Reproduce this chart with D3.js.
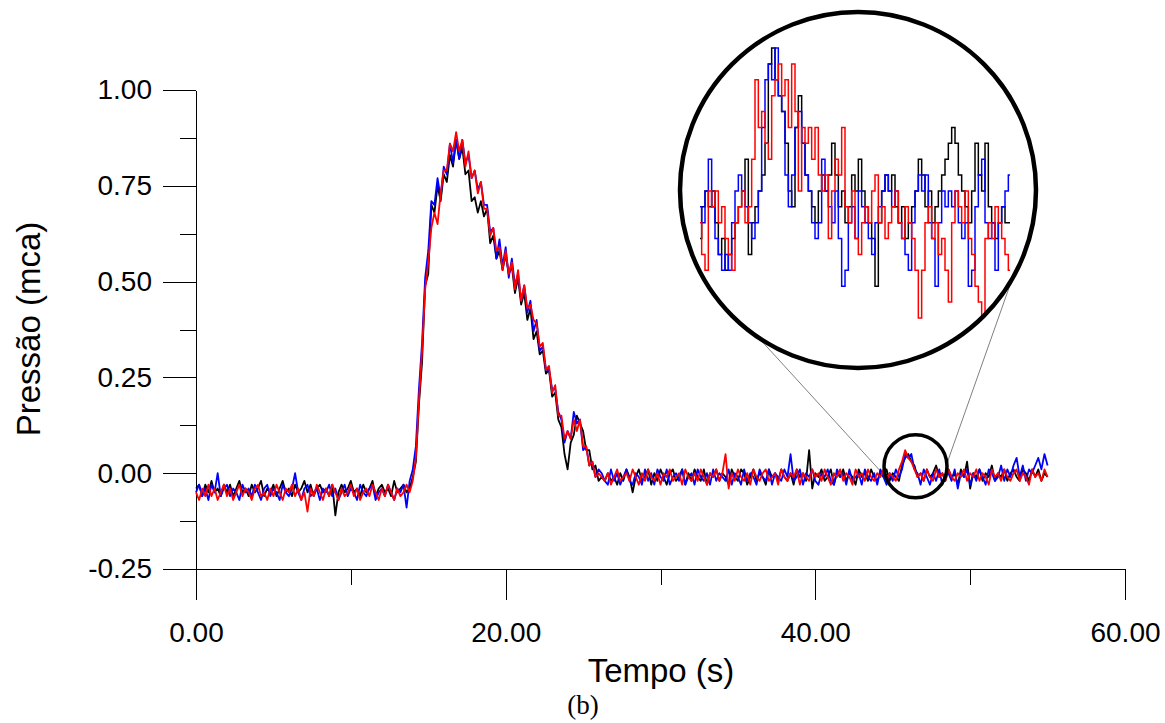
<!DOCTYPE html>
<html>
<head>
<meta charset="utf-8">
<script src="https://cdn.jsdelivr.net/npm/d3@7"></script>
<style>
  body { margin: 0; background: #fff; }
  svg { display: block; }
</style>
</head>
<body>
<div id="chart"></div>
<script>
// Pressure records (mca), one sample every 0.2 s from 0 to 55 s
const sampleStep = 0.2;

// black run
const blackPre = [
  -0.04,-0.03,-0.06,-0.03,-0.05,-0.02,-0.05,-0.04,-0.06,-0.03,
  -0.05,-0.03,-0.06,-0.04,-0.02,-0.05,-0.04,-0.06,-0.03,-0.05,
  -0.04,-0.02,-0.06,-0.04,-0.05,-0.03,-0.06,-0.04,-0.02,-0.05,
  -0.04,-0.06,-0.03,-0.05,-0.04,-0.02,-0.05,-0.03,-0.06,-0.04,
  -0.03,-0.05,-0.04,-0.06,-0.03,-0.11,-0.05,-0.03,-0.05,-0.04,
  -0.02,-0.05,-0.04,-0.06,-0.03,-0.05,-0.04,-0.02,-0.06,-0.04,
  -0.03,-0.05,-0.04,-0.06,-0.02,-0.05,-0.04,-0.03,-0.05];
const blackEvent = [
  -0.04,-0.01,0.03,0.18,0.29,0.49,0.52,0.70,0.68,0.75,
  0.71,0.78,0.76,0.83,0.80,0.87,0.82,0.85,0.78,0.79,
  0.71,0.72,0.68,0.71,0.67,0.69,0.60,0.62,0.56,0.58,
  0.53,0.57,0.52,0.54,0.47,0.51,0.44,0.47,0.40,0.43,
  0.35,0.37,0.31,0.32,0.26,0.27,0.20,0.21,0.14,0.12,
  0.05,0.01,0.08,0.10,0.15,0.13,0.11,0.06,0.06,0.01,
  0.02,-0.02];
const blackPost = [
  -0.01,-0.02,0.00,-0.02,-0.01,-0.03,0.00,-0.02,0.01,-0.01,
  -0.05,-0.01,0.01,-0.02,-0.01,0.01,-0.03,0.00,-0.02,0.01,
  -0.01,-0.03,0.00,0.01,-0.02,-0.01,0.01,-0.03,0.00,-0.02,
  0.01,-0.01,-0.02,0.01,-0.03,0.00,-0.01,0.01,-0.02,0.00,
  -0.01,-0.03,0.01,-0.01,-0.02,0.01,0.00,-0.03,-0.01,0.01,
  -0.02,0.00,-0.01,-0.03,0.01,-0.01,0.00,-0.02,0.01,-0.01,
  -0.02,0.00,-0.03,0.01,-0.01,0.00,-0.02,0.06,-0.04,0.00,
  -0.01,0.01,-0.02,-0.01,0.01,-0.03,0.00,-0.01,0.01,-0.02,
  0.00,-0.01,-0.03,0.01,-0.01,0.00,-0.02,0.01,-0.01,-0.02,
  0.00,-0.01,0.01,-0.02,0.00,-0.01,-0.02,0.02,0.04,0.05,
  0.03,0.02,-0.01,0.00,-0.02,0.01,-0.01,0.00,0.02,-0.01,
  0.00,-0.02,0.01,-0.01,0.00,-0.03,0.01,-0.01,0.03,-0.04,
  0.00,-0.01,0.01,-0.02,0.00,-0.01,0.02,-0.02,0.00,-0.01,
  0.01,-0.02,0.00,0.01,-0.01,-0.02,0.01,0.00,-0.02,0.01,
  -0.01,0.01,-0.02,0.00,-0.01];

// blue run
const bluePre = [
  -0.05,-0.03,-0.06,-0.04,-0.07,-0.03,-0.05,0.00,-0.06,-0.04,
  -0.03,-0.06,-0.04,-0.05,-0.07,-0.03,-0.05,-0.04,-0.06,-0.03,
  -0.05,-0.07,-0.04,-0.03,-0.06,-0.04,-0.05,-0.07,-0.03,-0.05,
  -0.06,-0.04,0.00,-0.05,-0.07,-0.04,-0.03,-0.06,-0.05,-0.04,
  -0.07,-0.04,-0.05,-0.03,-0.06,-0.04,-0.07,-0.05,-0.03,-0.06,
  -0.04,-0.05,-0.07,-0.03,-0.05,-0.06,-0.04,-0.03,-0.07,-0.05,
  -0.04,-0.06,-0.03,-0.05,-0.07,-0.04,-0.05,-0.03,-0.09];
const blueEvent = [
  -0.02,0.01,0.07,0.22,0.34,0.51,0.58,0.71,0.70,0.77,
  0.72,0.80,0.78,0.86,0.81,0.87,0.82,0.87,0.81,0.83,
  0.77,0.79,0.74,0.76,0.70,0.70,0.63,0.64,0.56,0.61,
  0.54,0.59,0.51,0.56,0.49,0.52,0.45,0.49,0.42,0.45,
  0.37,0.40,0.32,0.33,0.27,0.27,0.22,0.22,0.16,0.14,
  0.08,0.11,0.09,0.16,0.13,0.14,0.06,0.07,0.02,0.03,
  -0.01,0.01];
const bluePost = [
  0.00,-0.02,-0.03,0.01,-0.02,0.00,-0.03,-0.01,0.01,-0.02,
  -0.03,0.00,-0.01,-0.03,0.01,-0.02,0.00,-0.03,0.01,-0.01,
  -0.02,0.01,-0.03,-0.01,0.00,-0.02,0.01,-0.03,-0.01,0.00,
  -0.03,0.01,-0.01,-0.02,0.00,-0.03,0.01,-0.02,0.00,-0.01,
  -0.02,0.01,-0.03,0.00,-0.01,-0.03,0.01,-0.02,0.00,-0.01,
  -0.03,0.01,-0.01,-0.02,0.01,-0.03,0.00,-0.01,-0.02,0.01,
  -0.01,0.05,-0.02,-0.01,0.01,-0.03,0.00,-0.01,0.01,-0.02,
  -0.03,0.00,-0.01,0.01,-0.02,-0.03,0.01,-0.01,0.00,-0.03,
  0.01,-0.02,-0.01,0.00,-0.03,0.01,-0.01,-0.02,0.00,-0.03,
  0.01,-0.01,-0.03,0.00,-0.02,0.01,-0.01,0.01,0.05,0.04,
  0.05,0.01,0.00,-0.03,0.01,-0.01,-0.03,0.00,-0.02,0.01,
  -0.03,-0.01,0.00,-0.02,0.01,-0.04,0.00,-0.01,0.01,-0.03,
  0.00,-0.02,0.01,-0.01,-0.03,0.01,0.00,-0.02,-0.01,0.02,
  -0.02,0.01,-0.01,0.02,0.04,-0.01,0.02,-0.02,0.01,0.00,
  0.02,0.04,0.01,0.05,0.02];

// red run
const redPre = [
  -0.05,-0.07,-0.04,-0.06,-0.03,-0.06,-0.04,-0.07,-0.05,-0.03,
  -0.06,-0.04,-0.07,-0.05,-0.03,-0.06,-0.04,-0.05,-0.07,-0.04,
  -0.03,-0.06,-0.05,-0.07,-0.04,-0.06,-0.03,-0.05,-0.07,-0.04,
  -0.05,-0.03,-0.06,-0.04,-0.07,-0.05,-0.10,-0.04,-0.06,-0.03,
  -0.05,-0.07,-0.04,-0.06,-0.03,-0.05,-0.07,-0.04,-0.06,-0.05,
  -0.03,-0.06,-0.04,-0.07,-0.05,-0.04,-0.06,-0.03,-0.05,-0.07,
  -0.04,-0.06,-0.03,-0.05,-0.07,-0.04,-0.06,-0.05,-0.03];
const redEvent = [
  -0.05,-0.02,0.04,0.19,0.32,0.48,0.55,0.64,0.68,0.65,
  0.73,0.79,0.79,0.86,0.84,0.89,0.84,0.87,0.80,0.84,
  0.77,0.79,0.73,0.76,0.69,0.69,0.62,0.64,0.58,0.59,
  0.53,0.58,0.52,0.55,0.48,0.53,0.45,0.49,0.43,0.44,
  0.40,0.39,0.33,0.34,0.27,0.28,0.21,0.23,0.15,0.15,
  0.09,0.11,0.09,0.14,0.11,0.14,0.07,0.07,0.02,0.03,
  -0.01,0.00];
const redPost = [
  -0.01,-0.02,0.00,-0.03,-0.01,0.01,-0.02,-0.01,0.00,-0.02,
  0.01,-0.01,-0.03,0.00,-0.02,0.01,-0.01,-0.02,0.00,-0.03,
  0.00,-0.01,0.01,-0.02,-0.01,0.00,-0.03,0.01,-0.01,-0.02,
  0.00,-0.02,0.01,-0.01,-0.03,0.00,-0.01,0.01,-0.02,0.00,
  0.05,-0.04,0.00,-0.02,0.01,-0.01,-0.02,0.00,-0.03,0.01,
  -0.01,-0.02,0.00,0.01,-0.02,-0.01,0.00,-0.03,0.01,-0.01,
  -0.02,0.00,-0.01,0.01,-0.03,0.00,-0.01,-0.02,0.01,-0.01,
  0.00,-0.02,0.01,-0.01,-0.03,0.00,-0.01,0.01,-0.02,0.00,
  -0.01,-0.03,0.01,-0.01,0.00,-0.02,0.01,-0.01,-0.02,0.00,
  -0.01,0.01,-0.02,0.00,-0.01,-0.02,0.01,0.03,0.06,0.04,
  0.03,0.01,-0.01,0.00,-0.02,0.01,-0.01,-0.02,0.01,-0.01,
  0.00,-0.02,0.01,-0.01,-0.02,0.00,-0.01,0.01,-0.02,0.00,
  -0.01,0.01,-0.02,0.00,-0.01,-0.03,0.01,-0.01,0.00,-0.02,
  0.01,-0.01,-0.02,0.00,0.01,-0.02,0.00,-0.01,-0.03,0.01,
  -0.01,0.00,-0.02,0.01,-0.01];

// zoomed detail (quantised sensor steps) shown in the big circle
const insetBlack = [5,7,8,7,8,6,4,5,3,4,5,6,7,8,10,4,6,7,8,9,11,16,17,15,14,13,11,8,7,12,
  14,11,9,8,7,6,8,9,8,9,11,9,7,8,6,7,9,8,10,8,7,6,5,2,6,8,9,8,9,7,
  6,7,5,6,7,8,10,9,7,8,6,7,8,9,10,11,12,11,9,8,7,6,8,11,9,8,11,7,6,5,
  6,7,6,6];
const insetBlue = [7,6,8,10,7,5,4,3,4,3,6,8,9,8,7,6,5,6,8,12,15,16,15,17,14,13,9,7,9,12,
  13,11,9,8,6,5,6,10,8,7,6,8,5,2,3,6,7,5,8,7,6,5,4,6,7,8,9,8,7,8,
  6,5,4,3,6,8,9,8,9,6,5,2,6,8,7,8,7,8,6,5,6,2,3,7,9,10,6,5,6,3,
  6,7,8,9];
const insetRed = [6,4,3,8,7,8,6,7,5,4,3,6,7,8,6,7,10,15,12,13,11,10,14,15,16,14,15,12,16,13,
  8,12,11,12,10,12,9,8,9,5,8,10,9,12,7,6,8,5,4,6,7,6,8,9,6,7,5,6,7,8,
  6,5,7,6,5,3,0,3,6,7,5,6,4,5,3,1,6,8,7,6,8,5,4,2,1,0,5,6,5,7,
  6,5,4,3];

// axis ticks
const xTickValues = [0, 20, 40, 60];
const xTickLabels = ["0.00", "20.00", "40.00", "60.00"];
const xMinorTicks = [10, 30, 50];
const yTickValues = [-0.25, 0, 0.25, 0.5, 0.75, 1];
const yTickLabels = ["-0.25", "0.00", "0.25", "0.50", "0.75", "1.00"];
const yMinorTicks = [-0.125, 0.125, 0.375, 0.625, 0.875];

const seriesColors = ["#000000", "#0000ff", "#ff0000"];

function toPoints(values) {
  return values.map((v, i) => [i * sampleStep, v]);
}

const runs = [
  blackPre.concat(blackEvent, blackPost),
  bluePre.concat(blueEvent, bluePost),
  redPre.concat(redEvent, redPost)
];
const insetRuns = [insetBlack, insetBlue, insetRed];

const width = 1165, height = 723;
const font = "'Liberation Sans', Arial, sans-serif";

const svg = d3.select("#chart")
  .append("svg")
    .attr("width", width)
    .attr("height", height);

svg.append("rect").attr("width", width).attr("height", height).attr("fill", "#fff");

const x = d3.scaleLinear().domain([0, 60]).range([196, 1125]);
const y = d3.scaleLinear().domain([-0.25, 1]).range([569, 90]);

// y axis
svg.append("g")
  .attr("transform", "translate(" + x(0) + ",0)")
  .call(d3.axisLeft(y)
    .tickValues(yTickValues)
    .tickFormat((d, i) => yTickLabels[i])
    .tickSize(33).tickSizeOuter(0).tickPadding(11));
svg.append("g")
  .attr("transform", "translate(" + x(0) + ",0)")
  .call(d3.axisLeft(y).tickValues(yMinorTicks).tickFormat("").tickSize(16).tickSizeOuter(0))
  .call(g => g.select(".domain").remove());

// x axis
svg.append("g")
  .attr("transform", "translate(0," + y(-0.25) + ")")
  .call(d3.axisBottom(x)
    .tickValues(xTickValues)
    .tickFormat((d, i) => xTickLabels[i])
    .tickSize(31).tickSizeOuter(0).tickPadding(22));
svg.append("g")
  .attr("transform", "translate(0," + y(-0.25) + ")")
  .call(d3.axisBottom(x).tickValues(xMinorTicks).tickFormat("").tickSize(16).tickSizeOuter(0))
  .call(g => g.select(".domain").remove());

svg.selectAll(".tick text")
  .attr("font-family", font)
  .attr("font-size", 28)
  .attr("fill", "#000");
svg.selectAll(".tick line, .domain")
  .attr("stroke", "#000")
  .attr("shape-rendering", "crispEdges");

// axis titles
svg.append("text")
  .attr("x", 661).attr("y", 682)
  .attr("text-anchor", "middle")
  .attr("font-family", font).attr("font-size", 33)
  .text("Tempo (s)");
svg.append("text")
  .attr("transform", "translate(40,329) rotate(-90)")
  .attr("text-anchor", "middle")
  .attr("font-family", font).attr("font-size", 33)
  .text("Pressão (mca)");
svg.append("text")
  .attr("x", 583).attr("y", 714)
  .attr("text-anchor", "middle")
  .attr("font-family", "'Liberation Serif', 'Times New Roman', serif").attr("font-size", 27)
  .text("(b)");

// zoom marker and inset geometry
const zoomCenter = [46.47, 0.018], zoomRadius = 31.5;
const insetCenter = [858, 190], insetRadius = 178;
const connectors = [[124, 160], [30, -5]];   // angles (deg) on inset / zoom circles

const zc = [x(zoomCenter[0]), y(zoomCenter[1])];
const rad = a => a * Math.PI / 180;
svg.append("g").selectAll("line")
  .data(connectors)
  .enter().append("line")
    .attr("x1", d => insetCenter[0] + insetRadius * Math.cos(rad(d[0])))
    .attr("y1", d => insetCenter[1] + insetRadius * Math.sin(rad(d[0])))
    .attr("x2", d => zc[0] + zoomRadius * Math.cos(rad(d[1])))
    .attr("y2", d => zc[1] + zoomRadius * Math.sin(rad(d[1])))
    .attr("stroke", "#808080")
    .attr("stroke-width", 1);

// main traces
const line = d3.line().x(d => x(d[0])).y(d => y(d[1]));
svg.append("g").selectAll("path")
  .data(runs)
  .enter().append("path")
    .attr("d", d => line(toPoints(d)))
    .attr("fill", "none")
    .attr("stroke", (d, i) => seriesColors[i])
    .attr("stroke-width", 1.8)
    .attr("stroke-linejoin", "round");

svg.append("circle")
  .attr("cx", zc[0]).attr("cy", zc[1]).attr("r", zoomRadius)
  .attr("fill", "none").attr("stroke", "#000").attr("stroke-width", 3.5);

// inset
svg.append("clipPath").attr("id", "insetClip")
  .append("circle")
    .attr("cx", insetCenter[0]).attr("cy", insetCenter[1]).attr("r", insetRadius);

const xi = d3.scaleLinear().domain([0, insetBlack.length - 1]).range([700, 1010]);
const yi = d3.scaleLinear().domain([0, 17]).range([318, 48]);
const insetLine = d3.line().x((d, i) => xi(i)).y(d => yi(d)).curve(d3.curveStep);

svg.append("circle")
  .attr("cx", insetCenter[0]).attr("cy", insetCenter[1]).attr("r", insetRadius)
  .attr("fill", "#fff");
svg.append("g").attr("clip-path", "url(#insetClip)")
  .selectAll("path")
  .data(insetRuns)
  .enter().append("path")
    .attr("d", d => insetLine(d))
    .attr("fill", "none")
    .attr("stroke", (d, i) => seriesColors[i])
    .attr("stroke-width", 1.5);
svg.append("circle")
  .attr("cx", insetCenter[0]).attr("cy", insetCenter[1]).attr("r", insetRadius)
  .attr("fill", "none").attr("stroke", "#000").attr("stroke-width", 4.5);
</script>
</body>
</html>
